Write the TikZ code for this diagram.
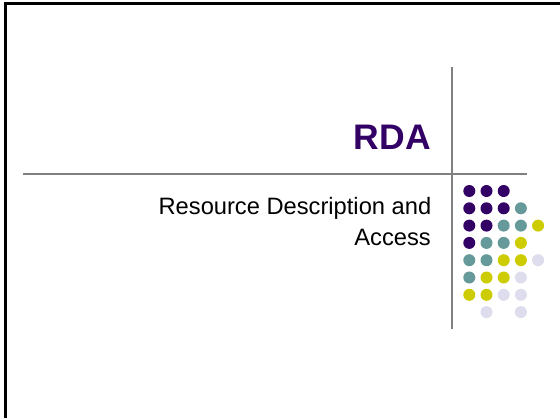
\documentclass[tikz,border=0pt]{standalone}
\usepackage{fontspec}
\setmainfont{Liberation Sans}
\definecolor{rdapurple}{RGB}{51,0,102}
\definecolor{rdateal}{RGB}{102,153,153}
\definecolor{rdayellow}{RGB}{204,204,0}
\definecolor{rdalav}{RGB}{221,221,238}
\definecolor{rulegray}{RGB}{128,128,128}
\tikzset{
  rule/.style={draw=rulegray, line width=2pt},
  frameline/.style={draw=black, line width=2.8pt},
  dot/.style={radius=6pt},
  title/.style={anchor=base east, inner sep=0pt, text=rdapurple, font=\fontsize{35.5}{40}\selectfont\bfseries},
  subtitle/.style={anchor=base east, inner sep=0pt, text=black, font=\fontsize{23.7}{27}\selectfont},
}
\begin{document}
\begin{tikzpicture}[x=1pt,y=-1pt]
\useasboundingbox (0,0) rectangle (560,418);
\fill[white] (0,0) rectangle (560,418);
% frame (left and top)
\draw[frameline] (5.5,418) -- (5.5,3.3) -- (560,3.3);
% rules
\coordinate (vt) at (452,67);
\coordinate (vb) at (452,329);
\coordinate (hl) at (23,174);
\coordinate (hr) at (527,174);
\draw[rule] (vt) -- (vb);
\draw[rule] (hl) -- (hr);
% texts
\node[title] (rda) at (431,149.3) {RDA};
\node[subtitle] (sub1) at (431.5,214) {Resource Description and};
\node[subtitle] (sub2) at (431,245) {Access};
% dots
\def\dx{17.2}
\def\dy{17.3}
\foreach \c/\r/\col in {
  0/0/rdapurple,1/0/rdapurple,2/0/rdapurple,
  0/1/rdapurple,1/1/rdapurple,2/1/rdapurple,3/1/rdateal,
  0/2/rdapurple,1/2/rdapurple,2/2/rdateal,3/2/rdateal,4/2/rdayellow,
  0/3/rdapurple,1/3/rdateal,2/3/rdateal,3/3/rdayellow,
  0/4/rdateal,1/4/rdateal,2/4/rdayellow,3/4/rdayellow,4/4/rdalav,
  0/5/rdateal,1/5/rdayellow,2/5/rdayellow,3/5/rdalav,
  0/6/rdayellow,1/6/rdayellow,2/6/rdalav,3/6/rdalav,
  1/7/rdalav,3/7/rdalav}
  \fill[\col] ({469.3+\c*\dx},{191+\r*\dy}) circle[dot];
\end{tikzpicture}
\end{document}
